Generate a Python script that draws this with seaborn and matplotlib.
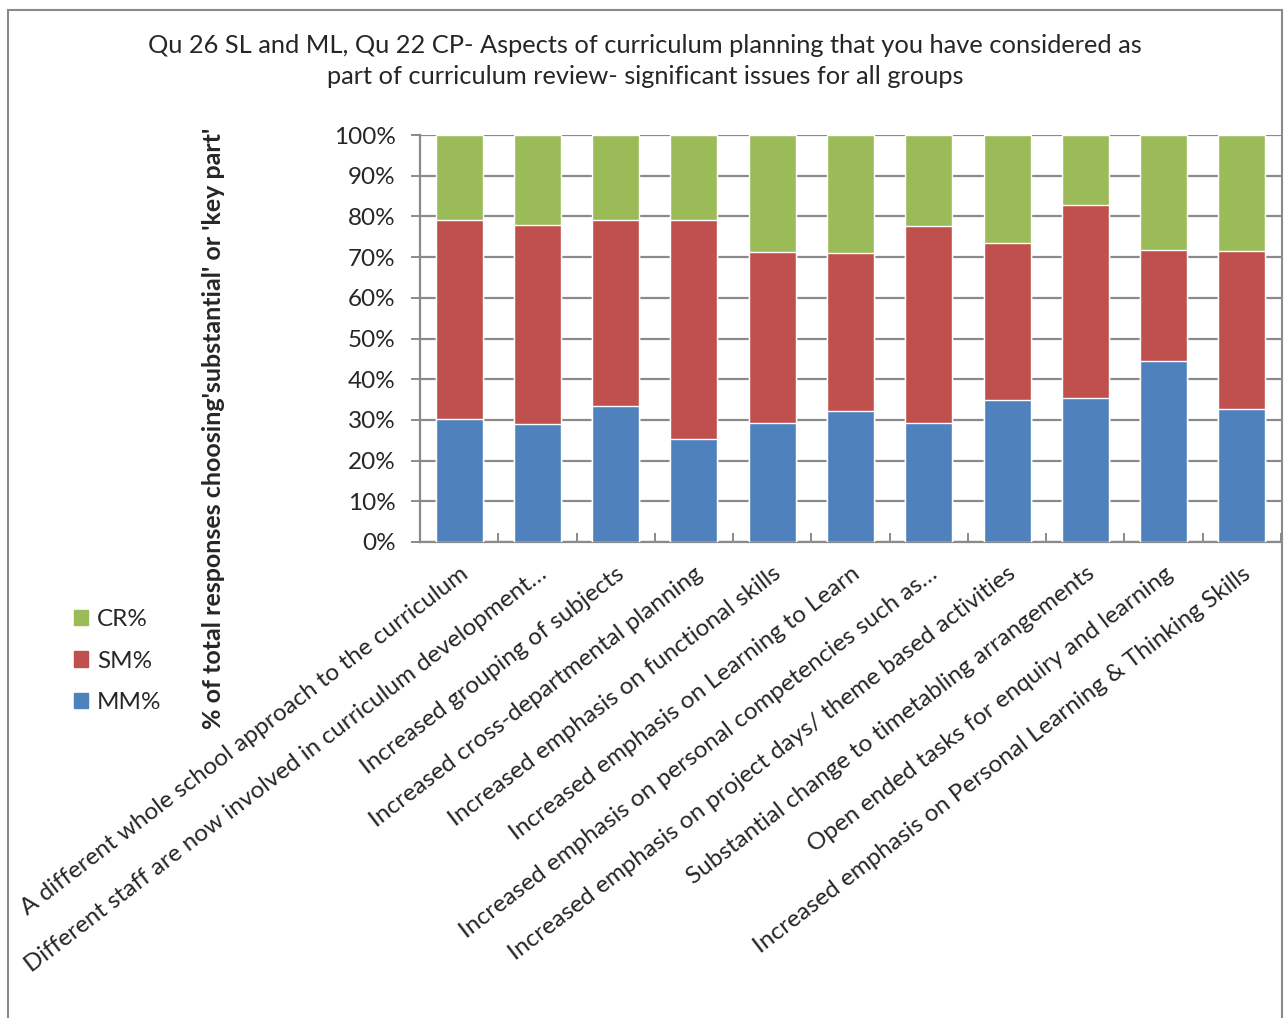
import matplotlib
matplotlib.use("Agg")
import matplotlib.pyplot as plt
import seaborn as sns
import pandas as pd
import numpy as np
from matplotlib.patches import Rectangle, Patch

categories = [
    "A different whole school approach to the curriculum",
    "Different staff are now involved in curriculum development…",
    "Increased grouping of subjects",
    "Increased cross-departmental planning",
    "Increased emphasis on functional skills",
    "Increased emphasis on Learning to Learn",
    "Increased emphasis on personal competencies such as…",
    "Increased emphasis on project days/ theme based activities",
    "Substantial change to timetabling arrangements",
    "Open ended tasks for enquiry and learning",
    "Increased emphasis on Personal Learning & Thinking Skills",
]
mm = [30.2, 28.9, 33.4, 25.2, 29.3, 32.1, 29.3, 34.8, 35.5, 44.4, 32.6]
sm = [48.8, 49.1, 45.8, 54.0, 41.9, 39.0, 48.4, 38.7, 47.3, 27.4, 38.9]
cr = [21.0, 22.0, 20.8, 20.8, 28.8, 28.9, 22.3, 26.5, 17.2, 28.2, 28.5]

yticks = [0, 10, 20, 30, 40, 50, 60, 70, 80, 90, 100]
title = ("Qu 26 SL and ML, Qu 22 CP- Aspects of curriculum planning that you have considered as\n"
         "part of curriculum review- significant issues for all groups")
ylabel = "% of total responses choosing'substantial' or 'key part'"

c_mm = "#4F81BD"
c_sm = "#C0504D"
c_cr = "#9BBB59"

sns.set_style("white")
plt.rcParams['font.family'] = ['Lato', 'DejaVu Sans']

df = pd.DataFrame({"cat": categories, "MM": mm, "SM": sm, "CR": cr})
df["top_sm"] = df["MM"] + df["SM"]
df["top_cr"] = df["top_sm"] + df["CR"]

fig = plt.figure(figsize=(12.87, 10.18), dpi=100)
W, H = 1287, 1018
ax = fig.add_axes([420 / W, 1 - 542 / H, (1281 - 420) / W, (542 - 135) / H])

sns.barplot(data=df, x="cat", y="top_cr", color=c_cr, width=0.6, ax=ax, saturation=1, zorder=3)
sns.barplot(data=df, x="cat", y="top_sm", color=c_sm, width=0.6, ax=ax, saturation=1, zorder=3)
sns.barplot(data=df, x="cat", y="MM", color=c_mm, width=0.6, ax=ax, saturation=1, zorder=3)

ax.set_ylim(0, 100)
ax.set_xlim(-0.5, len(categories) - 0.5)
ax.set_yticks(yticks)
ax.set_yticklabels([f"{v}%" for v in yticks], fontsize=17.5)
ax.yaxis.grid(True, color="#8a8a8a", linewidth=1.6, zorder=0)
ax.set_axisbelow(True)
ax.set_xlabel("")
ax.set_ylabel("")
for s in ["top", "right"]:
    ax.spines[s].set_visible(False)
for s in ["left", "bottom"]:
    ax.spines[s].set_color("#8a8a8a")
    ax.spines[s].set_linewidth(1.6)
ax.tick_params(axis="y", length=6.5, width=1.4, color="#8a8a8a", left=True, pad=11)
ax.set_xticks(np.arange(len(categories)))
ax.set_xticklabels(categories, rotation=37.5, ha="right", rotation_mode="anchor", fontsize=17.5)
ax.tick_params(axis="x", length=0, pad=15)
ax.set_xticks(np.arange(len(categories) + 1) - 0.5, minor=True)
ax.tick_params(axis="x", which="minor", length=6.5, width=1.4, color="#8a8a8a",
               bottom=True, direction="in")

fig.text(645 / W, 1 - 61 / H, title, ha="center", va="center", fontsize=18.3, linespacing=1.4)
fig.text(214 / W, 1 - 428 / H, ylabel, rotation=90, ha="center", va="center",
         fontsize=18, fontweight="bold")

handles = [Patch(color=c_cr, label="CR%"), Patch(color=c_sm, label="SM%"), Patch(color=c_mm, label="MM%")]
fig.legend(handles=handles, loc="center left", bbox_to_anchor=(52 / W, 1 - 661 / H),
           frameon=False, fontsize=17.5, handlelength=0.6, handleheight=0.6,
           handletextpad=0.35, labelspacing=0.85)

fig.patches.append(Rectangle((8 / W, -0.01), (1282 - 8) / W, 1.0, transform=fig.transFigure,
                             fill=False, edgecolor="#8a8a8a", linewidth=1.5))

fig.savefig("out.png", dpi=100)
